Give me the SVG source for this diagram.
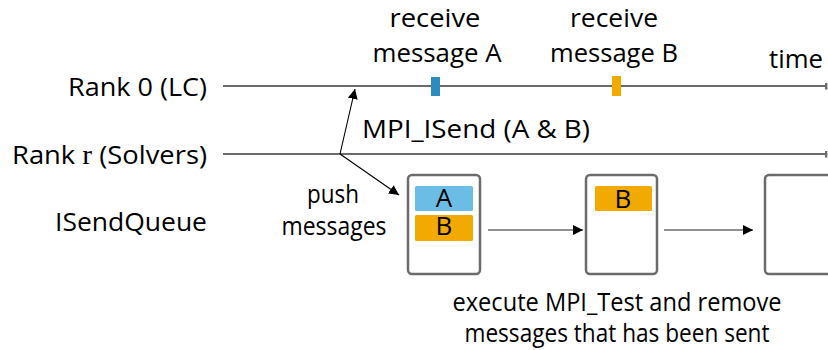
<svg xmlns="http://www.w3.org/2000/svg" width="828" height="350" viewBox="0 0 828 350">
  <style>
    text { font-family: "Open Sans", "Noto Sans", "Liberation Sans", sans-serif; font-size: 26px; fill: #000; }
    .mid { text-anchor: middle; }
    .end { text-anchor: end; }
    .timeline { stroke: #6b6b6b; stroke-width: 2; fill: none; }
    .queue { fill: #fff; stroke: #6b6b6b; stroke-width: 2.5; }
    .flow { stroke: #6b6b6b; stroke-width: 1.3; fill: none; }
    .push { stroke: #000; stroke-width: 1.1; fill: none; }
    .msgA { fill: #6bbde6; }
    .msgB { fill: #f2a900; }
  </style>
  <defs>
    <marker id="head" viewBox="0 0 10 10" refX="10" refY="5" markerWidth="10" markerHeight="10" markerUnits="userSpaceOnUse" orient="auto">
      <path d="M0,0 L10,5 L0,10 Z" fill="#000"/>
    </marker>
    <marker id="tick" viewBox="0 0 4 10" refX="2" refY="5" markerWidth="3" markerHeight="7" markerUnits="userSpaceOnUse" orient="auto">
      <rect x="0" y="0" width="4" height="10" fill="#6b6b6b"/>
    </marker>
  </defs>

  <!-- row labels -->
  <g id="label-rank0"><text class="end" x="207" y="96" textLength="139" lengthAdjust="spacingAndGlyphs">Rank 0 (LC)</text></g>
  <g id="label-rankr"><text class="end" x="207" y="164" textLength="195" lengthAdjust="spacingAndGlyphs">Rank <tspan font-family="Liberation Serif, serif" font-size="28">r</tspan> (Solvers)</text></g>
  <g id="label-queue"><text class="end" x="207" y="231" textLength="152" lengthAdjust="spacingAndGlyphs">ISendQueue</text></g>

  <!-- time axes -->
  <g id="timelines">
    <line class="timeline" x1="223" y1="86" x2="826" y2="86" marker-end="url(#tick)"/>
    <line class="timeline" x1="223" y1="154" x2="826" y2="154" marker-end="url(#tick)"/>
  </g>
  <g id="label-time"><text x="769" y="68" textLength="54" lengthAdjust="spacingAndGlyphs">time</text></g>

  <!-- receive events on rank 0 -->
  <g id="recv-A">
    <rect x="431" y="77" width="9" height="19" fill="#2e8bc2"/>
    <text class="mid" x="435" y="27" textLength="91" lengthAdjust="spacingAndGlyphs">receive</text>
    <text class="mid" x="437" y="62" textLength="129" lengthAdjust="spacingAndGlyphs">message A</text>
  </g>
  <g id="recv-B">
    <rect x="612" y="76" width="9" height="20" fill="#f2a900"/>
    <text class="mid" x="614" y="27" textLength="88" lengthAdjust="spacingAndGlyphs">receive</text>
    <text class="mid" x="614" y="62" textLength="128" lengthAdjust="spacingAndGlyphs">message B</text>
  </g>

  <g id="label-isend"><text x="362" y="138" textLength="228" lengthAdjust="spacingAndGlyphs">MPI_ISend (A &amp; B)</text></g>
  <g id="label-push">
    <text class="mid" x="333" y="203" textLength="52" lengthAdjust="spacingAndGlyphs">push</text>
    <text class="mid" x="334" y="235" textLength="105" lengthAdjust="spacingAndGlyphs">messages</text>
  </g>

  <!-- queue states -->
  <g id="queue-1">
    <rect class="queue" x="408" y="175" width="72" height="99" rx="4"/>
    <rect class="msgA" x="415" y="186" width="58" height="25" rx="1.5"/>
    <text class="mid" x="444" y="207">A</text>
    <rect class="msgB" x="415" y="215" width="58" height="26" rx="1.5"/>
    <text class="mid" x="444" y="235">B</text>
  </g>
  <g id="queue-2">
    <rect class="queue" x="586" y="175" width="71" height="99" rx="4"/>
    <rect class="msgB" x="595" y="186" width="57" height="25" rx="1.5"/>
    <text class="mid" x="623" y="208">B</text>
  </g>
  <g id="queue-3">
    <rect class="queue" x="765" y="175" width="72" height="99" rx="4"/>
  </g>

  <!-- connectors -->
  <g id="connectors">
    <line class="push" x1="340" y1="154" x2="355" y2="89" marker-end="url(#head)"/>
    <line class="push" x1="340" y1="154" x2="399" y2="195" marker-end="url(#head)"/>
    <line class="flow" x1="488" y1="230" x2="583" y2="230" marker-end="url(#head)"/>
    <line class="flow" x1="664" y1="230" x2="753" y2="230" marker-end="url(#head)"/>
  </g>

  <g id="label-test">
    <text class="mid" x="617" y="311" textLength="329" lengthAdjust="spacingAndGlyphs">execute MPI_Test and remove</text>
    <text class="mid" x="617" y="342" textLength="305" lengthAdjust="spacingAndGlyphs">messages that has been sent</text>
  </g>
</svg>
